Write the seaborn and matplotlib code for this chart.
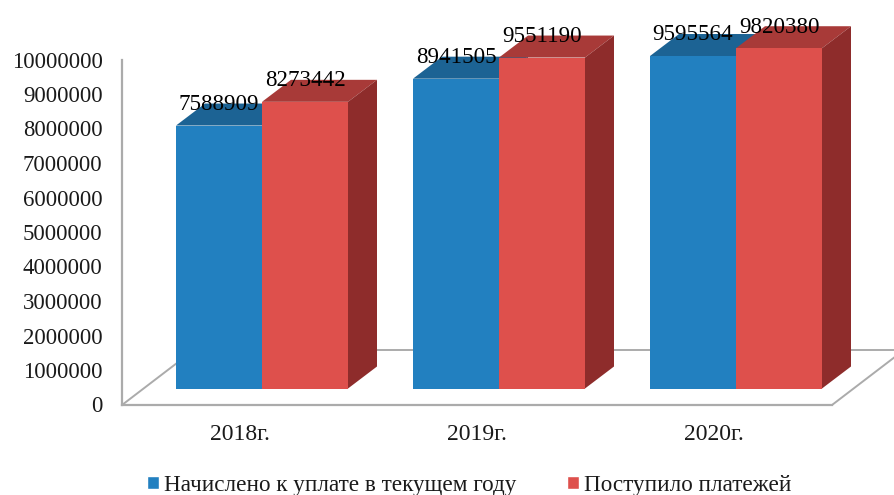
import pandas as pd
import matplotlib
matplotlib.use('Agg')
import matplotlib.pyplot as plt
from matplotlib.lines import Line2D
from matplotlib.patches import Polygon
import seaborn as sns

# данные
years = ['2018г.', '2019г.', '2020г.']
charged = [7588909, 8941505, 9595564]
received = [8273442, 9551190, 9820380]
name_charged = 'Начислено к уплате в текущем году'
name_received = 'Поступило платежей'

W, H = 894, 495
px_per_unit = 34.65 / 1e6   # пикселей на единицу значения
px_per_cat = 237
base_y = 388.5
depth_x, depth_y = 29, 22   # глубина псевдо-3D в пикселях

front_colors = ['#2280C0', '#DE504C']
top_colors = ['#1C6394', '#A83A38']
side_colors = ['#17557F', '#8E2C2B']
line_color = '#ABABAB'
text_color = '#1A1A1A'

df = pd.DataFrame({
    'year': years * 2,
    'value': charged + received,
    'series': [name_charged] * 3 + [name_received] * 3,
})

sns.set_theme(style='white')
plt.rcParams['font.family'] = ['Liberation Serif', 'DejaVu Serif']
plt.rcParams['font.size'] = 16

fig = plt.figure(figsize=(W / 100, H / 100), dpi=100, facecolor='white')


def fig_xy(x, y):
    return x / W, 1 - y / H


# оси со шкалой: вертикальная линия и передний край "пола"
ax_base = fig.add_axes([122 / W, 1 - 404.5 / H, 710 / W, 345 / H], facecolor='none')
ax_base.set_xlim(-0.5, 2.5)
ax_base.set_ylim(0, 10000000)
ax_base.set_xticks(range(len(years)), years)
ax_base.set_yticks(range(0, 10000001, 1000000))
ax_base.tick_params(axis='y', length=0, pad=14, labelsize=16.4, labelcolor=text_color)
ax_base.tick_params(axis='x', length=0, pad=14, labelsize=17, labelcolor=text_color)
ax_base.ticklabel_format(axis='y', style='plain')
for s in ['top', 'right']:
    ax_base.spines[s].set_visible(False)
for s in ['left', 'bottom']:
    ax_base.spines[s].set_color(line_color)
    ax_base.spines[s].set_linewidth(1.6)

# задний и боковые края "пола"
floor_lines = [[(122, 405), (194, 350)], [(194, 350), (894, 350)], [(832, 405), (904, 350)]]
for (x0, y0), (x1, y1) in floor_lines:
    p0, p1 = fig_xy(x0, y0), fig_xy(x1, y1)
    fig.add_artist(Line2D([p0[0], p1[0]], [p0[1], p1[1]], color=line_color, lw=1.4, zorder=-1))

# столбцы на прозрачных осях во весь рисунок
ax = fig.add_axes([0, 0, 1, 1], facecolor='none')
sns.barplot(data=df, x='year', y='value', hue='series', palette=front_colors,
            width=172 / px_per_cat, gap=0, saturation=1, ax=ax)
ax.set_xlim(-262 / px_per_cat, (W - 262) / px_per_cat)
ax.set_ylim((base_y - H) / px_per_unit, base_y / px_per_unit)
ax.axis('off')

dx = depth_x / px_per_cat
dy = depth_y / px_per_unit
for i, container in enumerate(ax.containers):
    for bar, value in zip(container, container.datavalues):
        bar.set_zorder(3)
        bar.set_linewidth(0)
        x0, x1 = bar.get_x(), bar.get_x() + bar.get_width()
        top = bar.get_height()
        ax.add_patch(Polygon([(x0, top), (x1, top), (x1 + dx, top + dy), (x0 + dx, top + dy)],
                             facecolor=top_colors[i], edgecolor='none', zorder=1.5 + i * 0.5))
        ax.add_patch(Polygon([(x1, 0), (x1 + dx, dy), (x1 + dx, top + dy), (x1, top)],
                             facecolor=side_colors[i], edgecolor='none', zorder=1.5 + i * 0.5))
        ax.annotate(str(int(value)), ((x0 + x1) / 2, top), xytext=(0, 15.2),
                    textcoords='offset points', ha='center', va='center',
                    fontsize=16.6, color='black', zorder=5)

sns.move_legend(ax, loc='center left', bbox_to_anchor=(147 / W, 1 - 485 / H), ncol=2,
                title=None, frameon=False, fontsize=16.7, handlelength=0.52, handleheight=0.52,
                handletextpad=0.2, columnspacing=2.2, borderpad=0, borderaxespad=0,
                labelcolor=text_color)

plt.savefig('out.png', dpi=100)
